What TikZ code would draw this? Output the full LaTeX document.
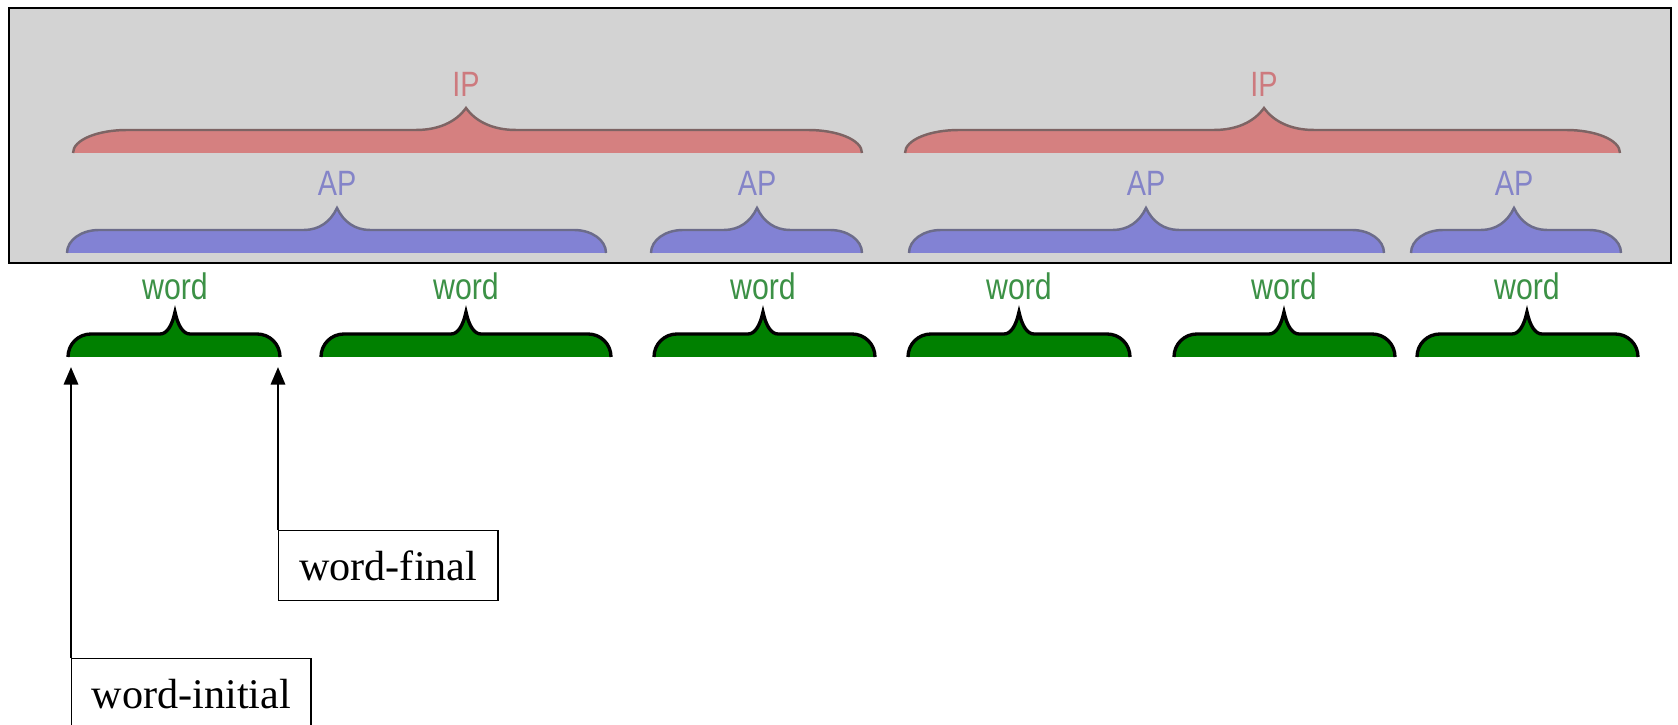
\documentclass[tikz,border=0pt]{standalone}
\usepackage{fontspec}
\usepackage{tikz}
\usetikzlibrary{arrows.meta}

\newfontfamily\tierfont[FakeStretch=0.82]{Liberation Sans}
\newfontfamily\boxfont{Liberation Serif}

\definecolor{bggray}{RGB}{211,211,211}
\definecolor{ipfill}{RGB}{213,128,128}
\definecolor{ipedge}{RGB}{125,100,100}
\definecolor{iptext}{RGB}{205,122,126}
\definecolor{apfill}{RGB}{130,130,212}
\definecolor{apedge}{RGB}{108,108,138}
\definecolor{aptext}{RGB}{132,132,200}
\definecolor{wordfill}{RGB}{0,128,0}
\definecolor{wordtext}{RGB}{60,145,70}

% brace: style, left end, tip, right end, bottom, end run, cusp half width
\newcommand{\tierbrace}[7]{%
  \filldraw[#1] (#2,#5) .. controls (#2,{#5-13}) and ({#2+0.45*#6},{#5-23}) .. ({#2+#6},{#5-23})
    -- ({#3-#7},{#5-23}) .. controls ({#3-0.55*#7},{#5-23}) and ({#3-0.2*#7},{#5-31}) .. (#3,{#5-45})
    .. controls ({#3+0.2*#7},{#5-31}) and ({#3+0.55*#7},{#5-23}) .. ({#3+#7},{#5-23})
    -- ({#4-#6},{#5-23}) .. controls ({#4-0.45*#6},{#5-23}) and (#4,{#5-13}) .. (#4,#5);}

\begin{document}
\begin{tikzpicture}[x=0.01cm,y=-0.01cm,
    ipbrace/.style={fill=ipfill,draw=ipedge,line width=0.7pt},
    apbrace/.style={fill=apfill,draw=apedge,line width=0.7pt},
    wordbrace/.style={fill=wordfill,draw=black,line width=0.95pt},
    tierlabel/.style={anchor=base,inner sep=0pt},
    iplabel/.style={tierlabel,text=iptext,font=\tierfont\fontsize{10}{12}\selectfont},
    aplabel/.style={tierlabel,text=aptext,font=\tierfont\fontsize{10}{12}\selectfont},
    wordlabel/.style={tierlabel,text=wordtext,font=\tierfont\fontsize{10.5}{13}\selectfont},
    posbox/.style={draw,line width=0.4pt,anchor=north west,minimum height=0.7cm,
      inner xsep=0.2cm,font=\boxfont\fontsize{12}{14}\selectfont},
    pointer/.style={line width=0.85pt,-{Triangle[width=4pt,length=5pt]}}]
  \useasboundingbox (0,0) rectangle (1678,725);

  % grey panel with the upper tiers
  \draw[fill=bggray,line width=0.6pt] (9,8) rectangle (1671,263);

  % IP tier
  \tierbrace{ipbrace}{73}{466}{862}{153}{54}{50}
  \tierbrace{ipbrace}{905}{1264}{1620}{153}{54}{50}
  \node[iplabel] (ip1) at (466,97) {IP};
  \node[iplabel] (ip2) at (1264,97) {IP};

  % AP tier
  \tierbrace{apbrace}{67}{337}{606}{253}{32}{33}
  \tierbrace{apbrace}{651}{757}{862}{253}{32}{33}
  \tierbrace{apbrace}{909}{1146}{1384}{253}{32}{33}
  \tierbrace{apbrace}{1411}{1514}{1621}{253}{32}{33}
  \node[aplabel] (ap1) at (337,196) {AP};
  \node[aplabel] (ap2) at (757,196) {AP};
  \node[aplabel] (ap3) at (1146,196) {AP};
  \node[aplabel] (ap4) at (1514,196) {AP};

  % word tier
  \tierbrace{wordbrace}{68}{175}{280}{357}{23}{15}
  \tierbrace{wordbrace}{321}{466}{611}{357}{23}{15}
  \tierbrace{wordbrace}{654}{763}{875}{357}{23}{15}
  \tierbrace{wordbrace}{908}{1019}{1130}{357}{23}{15}
  \tierbrace{wordbrace}{1174}{1284}{1395}{357}{23}{15}
  \tierbrace{wordbrace}{1417}{1527}{1638}{357}{23}{15}
  \node[wordlabel] (w1) at (175,300) {word};
  \node[wordlabel] (w2) at (466,300) {word};
  \node[wordlabel] (w3) at (763,300) {word};
  \node[wordlabel] (w4) at (1019,300) {word};
  \node[wordlabel] (w5) at (1284,300) {word};
  \node[wordlabel] (w6) at (1527,300) {word};

  % edge labels and pointers
  \node[posbox,minimum width=2.19cm] (final) at (278,530) {word-final};
  \node[posbox,minimum width=2.39cm] (initial) at (71,658) {word-initial};
  \coordinate (finalend) at (278,367);
  \coordinate (initialend) at (71,367);
  \draw[pointer] (final.north west) -- (finalend);
  \draw[pointer] (initial.north west) -- (initialend);
\end{tikzpicture}
\end{document}
